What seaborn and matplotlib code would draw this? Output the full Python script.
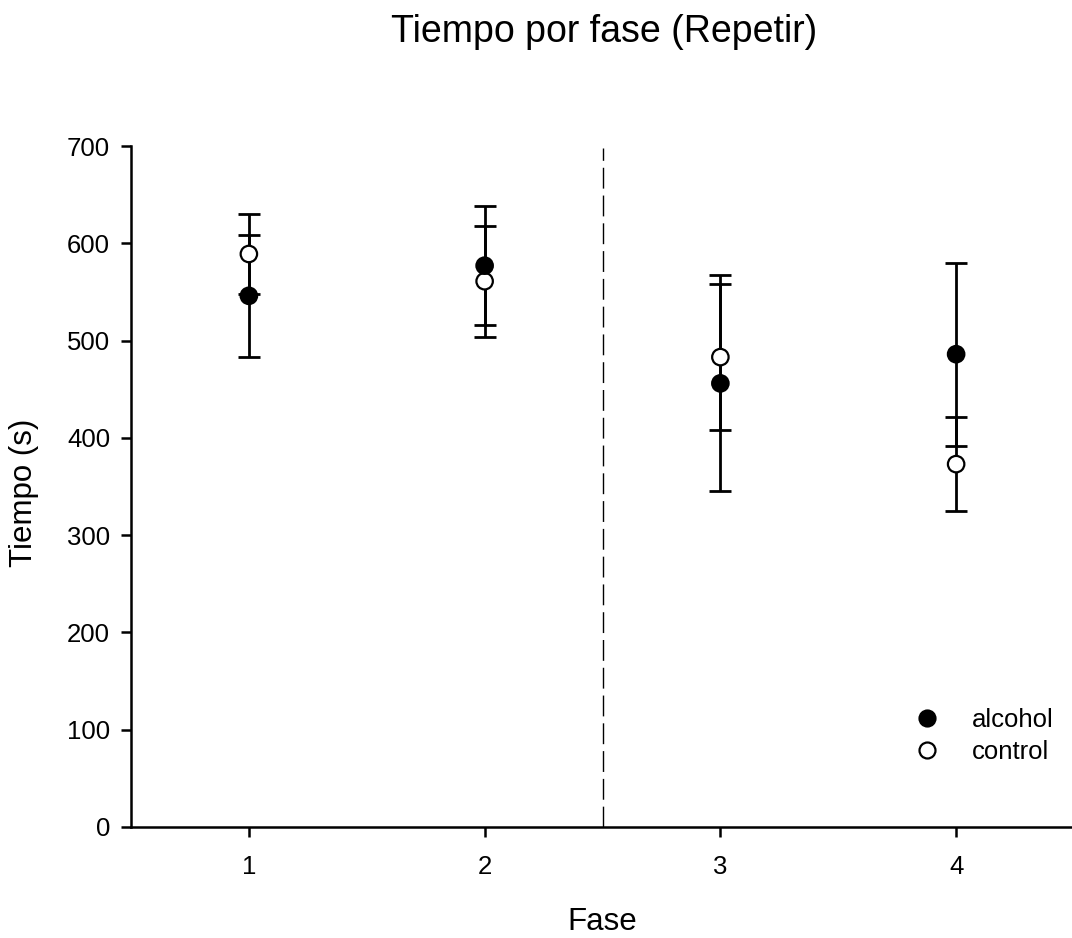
import matplotlib
matplotlib.use("Agg")
import matplotlib.pyplot as plt
from matplotlib.lines import Line2D
import seaborn as sns
import pandas as pd

# ---- data ----
fases = [1, 2, 3, 4]
alcohol_mean = [546, 577, 456, 486]
alcohol_err = [63, 61, 111, 94]
control_mean = [589, 561, 483, 373]
control_err = [41, 57, 75, 48]
y_ticks = [0, 100, 200, 300, 400, 500, 600, 700]
groups = ["alcohol", "control"]

df = pd.DataFrame({
    "Fase": fases * 2,
    "Tiempo": alcohol_mean + control_mean,
    "err": alcohol_err + control_err,
    "grupo": ["alcohol"] * 4 + ["control"] * 4,
})

sns.set_theme(style="ticks")
plt.rcParams["font.family"] = ["Liberation Sans", "DejaVu Sans"]
plt.rcParams["text.color"] = "black"
plt.rcParams["axes.labelcolor"] = "black"

fig = plt.figure(figsize=(10.72, 9.38), dpi=100)
ax = fig.add_axes([131 / 1072, 1 - 827 / 938, 943 / 1072, 681 / 938])

# error bars (control first, alcohol on top)
for g in ["control", "alcohol"]:
    sub = df[df["grupo"] == g]
    ax.errorbar(sub["Fase"], sub["Tiempo"], yerr=sub["err"], fmt="none",
                ecolor="black", elinewidth=2.0, capsize=8, capthick=2.0, zorder=2)

palette = {"alcohol": "black", "control": "white"}
sns.scatterplot(data=df.iloc[::-1], x="Fase", y="Tiempo", hue="grupo",
                palette=palette, edgecolor="black", linewidth=1.6, s=140,
                legend=False, zorder=3, ax=ax)

# dashed separator
ax.axvline(2.5, ymin=0, ymax=0.997, color="black", lw=1.0, ls=(0, (15, 5)), zorder=1)

ax.set_xlim(0.5, 4.5)
ax.set_ylim(0, 700)
ax.set_xticks(fases)
ax.set_yticks(y_ticks)
ax.tick_params(axis="both", labelsize=18.5, width=1.8, length=7, direction="out",
               color="black", labelcolor="black")
ax.tick_params(axis="y", pad=8)
ax.tick_params(axis="x", pad=13)
for s in ["top", "right"]:
    ax.spines[s].set_visible(False)
for s in ["left", "bottom"]:
    ax.spines[s].set_linewidth(1.8)
    ax.spines[s].set_color("black")

ax.set_xlabel("Fase", fontsize=22.5, va="baseline")
ax.xaxis.set_label_coords(0.5, (827 - 930) / 681)
ax.set_ylabel("Tiempo (s)", fontsize=22.5, va="center")
ax.yaxis.set_label_coords((24 - 131) / 943, 0.49)

fig.text(604 / 1072, 1 - 42 / 938, "Tiempo por fase (Repetir)", fontsize=27,
         ha="center", va="baseline")

handles = [
    Line2D([], [], ls="none", marker="o", markersize=11.5, markerfacecolor="black",
           markeredgecolor="black", markeredgewidth=1.6),
    Line2D([], [], ls="none", marker="o", markersize=11.5, markerfacecolor="white",
           markeredgecolor="black", markeredgewidth=1.6),
]
fig.legend(handles, groups, loc="center left", bbox_to_anchor=(914.5 / 1072, 1 - 736 / 938),
           frameon=False, fontsize=18.5, handlelength=1.0, handletextpad=1.25,
           labelspacing=0.3, borderpad=0, borderaxespad=0)

fig.savefig("out.png", dpi=100)
